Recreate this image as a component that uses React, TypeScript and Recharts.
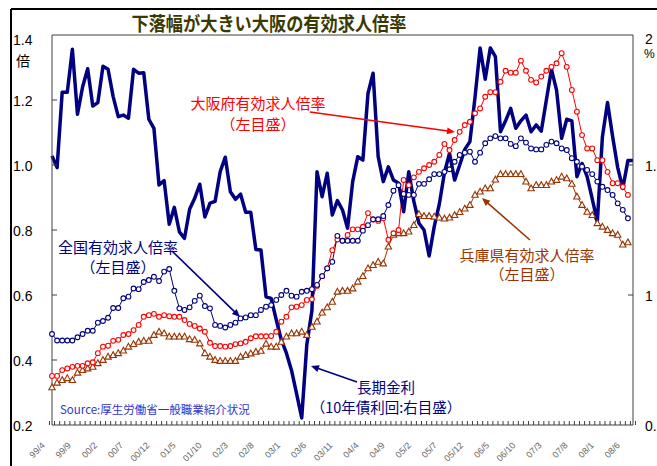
import React from 'react';
import { ComposedChart, Line, XAxis, YAxis, ReferenceLine } from 'recharts';

const months = [
  '99/4','99/5','99/6','99/7','99/8','99/9','99/10','99/11','99/12',
  '00/1','00/2','00/3','00/4','00/5','00/6','00/7','00/8','00/9','00/10','00/11','00/12',
  '01/1','01/2','01/3','01/4','01/5','01/6','01/7','01/8','01/9','01/10','01/11','01/12',
  '02/1','02/2','02/3','02/4','02/5','02/6','02/7','02/8','02/9','02/10','02/11','02/12',
  '03/1','03/2','03/3','03/4','03/5','03/6','03/7','03/8','03/9','03/10','03/11','03/12',
  '04/1','04/2','04/3','04/4','04/5','04/6','04/7','04/8','04/9','04/10','04/11','04/12',
  '05/1','05/2','05/3','05/4','05/5','05/6','05/7','05/8','05/9','05/10','05/11','05/12',
  '06/1','06/2','06/3','06/4','06/5','06/6','06/7','06/8','06/9','06/10','06/11','06/12',
  '07/1','07/2','07/3','07/4','07/5','07/6','07/7','07/8','07/9','07/10','07/11','07/12',
  '08/1','08/2','08/3','08/4','08/5','08/6','08/7','08/8','08/9','08/10'
];

// 大阪府有効求人倍率（左目盛）
const osaka = [
  0.351,0.351,0.369,0.374,0.379,0.382,0.382,0.39,0.393,
  0.421,0.441,0.444,0.459,0.462,0.477,0.48,0.492,0.508,0.533,0.538,0.542,
  0.533,0.538,0.535,0.533,0.533,0.523,0.511,0.505,0.497,0.487,0.453,0.443,
  0.443,0.441,0.443,0.449,0.451,0.456,0.467,0.473,0.473,0.473,0.474,0.487,
  0.518,0.533,0.562,0.564,0.569,0.585,0.587,0.628,0.658,0.682,0.738,0.771,
  0.767,0.785,0.802,0.802,0.81,0.852,0.832,0.828,0.836,0.77,0.79,0.8,
  0.954,0.938,0.962,0.979,0.99,1.0,1.01,1.031,1.065,1.046,1.077,1.102,
  1.123,1.133,1.159,1.174,1.21,1.224,1.224,1.256,1.29,1.284,1.284,1.321,
  1.29,1.262,1.254,1.272,1.29,1.302,1.313,1.344,1.302,1.231,1.164,1.092,
  1.051,1.051,1.015,1.015,0.979,0.944,0.944,0.933,0.908,null
];

// 全国有効求人倍率（左目盛）
const national = [
  0.48,0.46,0.46,0.46,0.46,0.47,0.48,0.49,0.49,
  0.515,0.52,0.53,0.56,0.56,0.59,0.595,0.62,0.618,0.64,0.646,0.656,
  0.643,0.672,0.68,0.613,0.559,0.554,0.562,0.582,0.598,0.566,0.559,0.508,
  0.505,0.5,0.508,0.515,0.528,0.531,0.538,0.538,0.554,0.564,0.569,0.585,
  0.6,0.613,0.598,0.595,0.61,0.613,0.618,0.631,0.658,0.682,0.702,0.782,
  0.767,0.767,0.767,0.767,0.798,0.815,0.833,0.833,0.843,0.877,0.921,0.938,
  0.911,0.908,0.908,0.942,0.942,0.956,0.972,0.972,0.979,0.987,1.01,1.031,
  1.038,1.041,1.01,1.038,1.067,1.082,1.089,1.082,1.082,1.065,1.058,1.082,
  1.069,1.051,1.048,1.048,1.062,1.072,1.067,1.051,1.046,1.021,1.01,0.995,
  0.985,0.972,0.949,0.933,0.923,0.908,0.882,0.862,0.836,null
];

// 兵庫県有効求人倍率（左目盛）
const hyogo = [
  0.316,0.33,0.338,0.344,0.338,0.361,0.369,0.374,0.379,
  0.39,0.4,0.41,0.415,0.421,0.429,0.441,0.449,0.456,0.459,0.459,0.477,
  0.487,0.482,0.472,0.472,0.472,0.472,0.464,0.462,0.451,0.421,0.41,0.4,
  0.397,0.397,0.397,0.397,0.41,0.415,0.42,0.425,0.428,0.45,0.441,0.441,
  0.456,0.472,0.482,0.482,0.487,0.477,0.502,0.518,0.546,0.562,0.579,0.61,
  0.613,0.613,0.62,0.641,0.658,0.682,0.692,0.702,0.697,0.749,0.785,0.79,
  0.79,0.795,0.815,0.849,0.843,0.843,0.841,0.838,0.835,0.838,0.846,0.855,
  0.866,0.877,0.908,0.918,0.928,0.928,0.955,0.972,0.972,0.972,0.972,0.972,
  0.949,0.928,0.938,0.938,0.938,0.949,0.954,0.964,0.959,0.942,0.903,0.877,
  0.856,0.846,0.821,0.81,0.8,0.79,0.785,0.755,0.762,null
];

// 長期金利（10年債利回、右目盛, %）
const bond = [
  1.535,1.49,1.78,1.78,1.945,1.695,1.8,1.87,1.727,
  1.74,1.88,1.868,1.763,1.686,1.692,1.68,1.868,1.853,1.855,1.676,1.641,
  1.423,1.44,1.272,1.337,1.243,1.218,1.33,1.372,1.426,1.3,1.353,1.36,
  1.474,1.53,1.397,1.368,1.388,1.318,1.318,1.175,1.173,0.993,0.987,0.904,
  0.827,0.776,0.71,0.62,0.527,0.81,0.94,1.474,1.378,1.468,1.308,1.363,
  1.327,1.257,1.436,1.532,1.519,1.775,1.853,1.532,1.436,1.493,1.442,1.43,
  1.32,1.474,1.36,1.276,1.25,1.15,1.263,1.35,1.47,1.545,1.442,1.5,
  1.56,1.59,1.76,1.95,1.83,1.95,1.917,1.628,1.67,1.718,1.641,1.67,
  1.692,1.628,1.654,1.63,1.75,1.868,1.788,1.603,1.676,1.67,1.455,1.506,
  1.455,1.37,1.282,1.609,1.74,1.61,1.49,1.41,1.517,1.517
];

const leftTicks = [0.2, 0.4, 0.6, 0.8, 1.0, 1.2, 1.4];
const rightTicks = [0.5, 1, 1.5, 2];
const rightTickLabels = ['0.5', '1', '1.5', '2'];

const data = months.map((m, i) => ({
  m,
  osaka: osaka[i],
  national: national[i],
  hyogo: hyogo[i],
  bond: bond[i],
}));

const NAVY = '#000080';
const RED = '#ff0000';
const BROWN = '#993300';
const AXIS = '#404040';
const PLOT_LEFT = 52;
const PLOT_RIGHT = 633;
const PLOT_BOTTOM = 425;
const STEP = (PLOT_RIGHT - PLOT_LEFT) / months.length;

const circleDot = (color: string, prefix: string) => (props: any) => {
  const { cx, cy, value, index } = props;
  if (value == null || cx == null || cy == null) return <g key={`${prefix}-${index}`} />;
  return <circle key={`${prefix}-${index}`} cx={cx} cy={cy} r={2.4} fill="#fff" stroke={color} strokeWidth={1.1} />;
};

const triDot = (color: string, prefix: string) => (props: any) => {
  const { cx, cy, value, index } = props;
  if (value == null || cx == null || cy == null) return <g key={`${prefix}-${index}`} />;
  const pts = `${cx},${cy - 3.4} ${cx - 3.2},${cy + 2.4} ${cx + 3.2},${cy + 2.4}`;
  return <polygon key={`${prefix}-${index}`} points={pts} fill="#fff" stroke={color} strokeWidth={1.1} />;
};

const XTick = (props: any) => {
  const { x, payload } = props;
  const idx = months.indexOf(payload.value);
  const bx = x - STEP / 2;
  const lx = x - 6.5 + idx * 0.132;
  const ly = 446;
  return (
    <g>
      <line x1={bx} x2={bx} y1={PLOT_BOTTOM} y2={PLOT_BOTTOM - 4} stroke={AXIS} strokeWidth={1} />
      {idx === months.length - 1 && (
        <line x1={x + STEP / 2} x2={x + STEP / 2} y1={PLOT_BOTTOM} y2={PLOT_BOTTOM - 4} stroke={AXIS} strokeWidth={1} />
      )}
      {idx % 5 === 0 && (
        <text
          x={lx}
          y={ly}
          textAnchor="end"
          transform={`rotate(-45 ${lx} ${ly})`}
          fontSize={9}
          fill="#666"
          fontFamily="'Liberation Sans Narrow', 'Liberation Sans', Arial, sans-serif"
        >
          {payload.value}
        </text>
      )}
    </g>
  );
};

const LeftTick = (props: any) => {
  const { y, payload } = props;
  const v = payload.value as number;
  const dy = v === 1.4 ? 10 : 6;
  return (
    <g>
      {v !== 1.4 && v !== 0.2 && <line x1={PLOT_LEFT} x2={PLOT_LEFT + 5} y1={y} y2={y} stroke={AXIS} />}
      <text x={13} y={y + dy} fontSize={14} fill="#000" fontFamily="'Liberation Sans', Arial, sans-serif">
        {v.toFixed(1)}
      </text>
    </g>
  );
};

const RightTick = (props: any) => {
  const { y, payload } = props;
  const v = payload.value as number;
  const label = rightTickLabels[rightTicks.indexOf(v)];
  const dy = v === 2 ? 9 : 6;
  return (
    <g>
      {v !== 2 && v !== 0.5 && <line x1={PLOT_RIGHT - 5} x2={PLOT_RIGHT} y1={y} y2={y} stroke={AXIS} />}
      <text x={645} y={y + dy} fontSize={14} fill="#000" fontFamily="'Liberation Sans', Arial, sans-serif">
        {label}
      </text>
    </g>
  );
};

const Arrow = ({ x1, y1, x2, y2, color, w = 1.6 }: any) => {
  const dx = x2 - x1;
  const dy = y2 - y1;
  const len = Math.sqrt(dx * dx + dy * dy);
  const ux = dx / len;
  const uy = dy / len;
  const hl = 8;
  const hw = 3.5;
  const bx = x2 - ux * hl;
  const by = y2 - uy * hl;
  const p = `${x2},${y2} ${bx - uy * hw},${by + ux * hw} ${bx + uy * hw},${by - ux * hw}`;
  return (
    <g>
      <line x1={x1} y1={y1} x2={bx + ux * 1} y2={by + uy * 1} stroke={color} strokeWidth={w} />
      <polygon points={p} fill={color} />
    </g>
  );
};

const CJK = "'Noto Sans CJK JP', 'Noto Sans', sans-serif";

export default function App() {
  return (
    <div style={{ position: 'absolute', left: 0, top: 0, width: 657, height: 466, background: '#fff', overflow: 'hidden' }}>
      <div style={{ position: 'absolute', left: 0, top: 0 }}>
        <ComposedChart width={657} height={466} data={data} margin={{ top: 35, right: 0, bottom: 0, left: 0 }}>
          <XAxis
            dataKey="m"
            interval={0}
            tick={<XTick />}
            tickLine={false}
            axisLine={{ stroke: AXIS, strokeWidth: 1 }}
            height={41}
          />
          <YAxis
            yAxisId="left"
            domain={[0.2, 1.4]}
            ticks={leftTicks}
            tick={<LeftTick />}
            tickLine={false}
            axisLine={{ stroke: AXIS, strokeWidth: 1 }}
            width={52}
            allowDataOverflow
          />
          <YAxis
            yAxisId="right"
            orientation="right"
            domain={[0.5, 2]}
            ticks={rightTicks}
            tick={<RightTick />}
            tickLine={false}
            axisLine={{ stroke: AXIS, strokeWidth: 1 }}
            width={24}
            allowDataOverflow
          />
          <ReferenceLine yAxisId="left" y={1.4} stroke={AXIS} strokeWidth={1} />
          <Line
            yAxisId="left"
            type="linear"
            dataKey="hyogo"
            stroke={BROWN}
            strokeWidth={1}
            dot={triDot(BROWN, 'h')}
            activeDot={false}
            isAnimationActive={false}
          />
          <Line
            yAxisId="left"
            type="linear"
            dataKey="osaka"
            stroke={RED}
            strokeWidth={1}
            dot={circleDot(RED, 'o')}
            activeDot={false}
            isAnimationActive={false}
          />
          <Line
            yAxisId="left"
            type="linear"
            dataKey="national"
            stroke={NAVY}
            strokeWidth={1}
            dot={circleDot(NAVY, 'n')}
            activeDot={false}
            isAnimationActive={false}
          />
          <Line
            yAxisId="right"
            type="linear"
            dataKey="bond"
            stroke={NAVY}
            strokeWidth={3.5}
            strokeLinejoin="round"
            dot={false}
            activeDot={false}
            isAnimationActive={false}
          />
        </ComposedChart>
      </div>
      <svg width={657} height={466} style={{ position: 'absolute', left: 0, top: 0, pointerEvents: 'none' }}>
        <line x1={11} y1={9} x2={657} y2={9} stroke="#000" strokeWidth={2} />
        <line x1={11} y1={9} x2={11} y2={466} stroke="#000" strokeWidth={2} />
        <text
          x={269}
          y={31}
          textAnchor="middle"
          fontSize={19}
          fontWeight="bold"
          fill="#3a3a00"
          fontFamily={CJK}
          textLength={275}
          lengthAdjust="spacingAndGlyphs"
        >
          下落幅が大きい大阪の有効求人倍率
        </text>
        <text x={16} y={66} fontSize={14} fill="#000" fontFamily={CJK}>倍</text>
        <text x={644} y={58} fontSize={12} fill="#000" fontFamily="'Liberation Sans', Arial, sans-serif">%</text>

        <text x={258} y={109} textAnchor="middle" fontSize={15} fill={RED} fontFamily={CJK}>大阪府有効求人倍率</text>
        <text x={258} y={130} textAnchor="middle" fontSize={15} fill={RED} fontFamily={CJK}>（左目盛）</text>
        <Arrow x1={310} y1={112} x2={455} y2={132} color={RED} />

        <text x={118} y={253} textAnchor="middle" fontSize={15} fill={NAVY} fontFamily={CJK}>全国有効求人倍率</text>
        <text x={118} y={273} textAnchor="middle" fontSize={15} fill={NAVY} fontFamily={CJK}>（左目盛）</text>
        <Arrow x1={172} y1={251} x2={240} y2={317} color={NAVY} />

        <text x={386} y={393} textAnchor="middle" fontSize={14.5} fill={NAVY} fontFamily={CJK}>長期金利</text>
        <text x={386} y={413} textAnchor="middle" fontSize={14.5} fill={NAVY} fontFamily={CJK}>（10年債利回:右目盛）</text>
        <Arrow x1={357} y1={382} x2={311} y2={366} color={NAVY} />

        <text x={527} y={261} textAnchor="middle" fontSize={15} fill={BROWN} fontFamily={CJK}>兵庫県有効求人倍率</text>
        <text x={527} y={280} textAnchor="middle" fontSize={15} fill={BROWN} fontFamily={CJK}>（左目盛）</text>
        <Arrow x1={530} y1={240} x2={482} y2={198} color={BROWN} />

        <text x={60} y={414} fontSize={11.5} fill="#3333cc" fontFamily={CJK}>Source:厚生労働省一般職業紹介状況</text>
      </svg>
    </div>
  );
}
